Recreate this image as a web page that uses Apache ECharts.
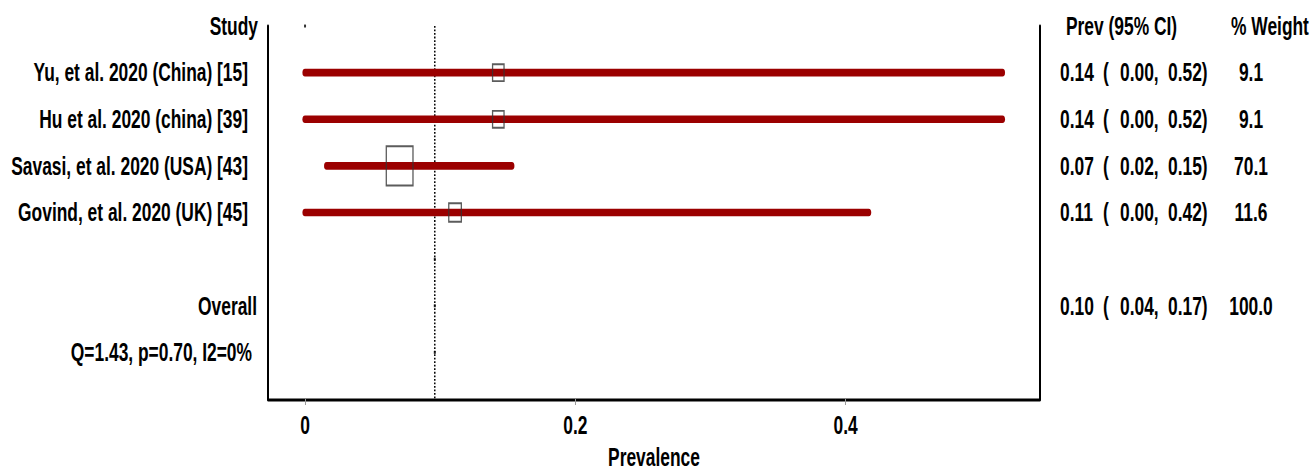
<!DOCTYPE html>
<html>
<head>
<meta charset="utf-8">
<script src="https://cdn.jsdelivr.net/npm/echarts@6/dist/echarts.min.js"></script>
<style>
  html, body { margin: 0; padding: 0; background: #fff; overflow: hidden; }
  #wrap { width: 1313px; height: 472px; overflow: hidden; }
  /* the plot is laid out short and then stretched vertically to the page height */
  #chart { width: 1313px; height: 321px; transform-origin: 0 0; }
</style>
</head>
<body>
<div id="wrap"><div id="chart"></div></div>
<script>
// ---- study data ----
const studies = [
  'Yu, et al. 2020 (China) [15]',
  'Hu et al. 2020 (china) [39]',
  'Savasi, et al. 2020 (USA) [43]',
  'Govind, et al. 2020 (UK) [45]'
];
const prev    = [0.143, 0.143, 0.070, 0.111];
const ciLow   = [0.000, 0.000, 0.016, 0.000];
const ciHigh  = [0.516, 0.516, 0.153, 0.417];
const weights = [9.1, 9.1, 70.1, 11.6];

// pooled estimate
const overallPrev   = 0.096;
const overallLow    = 0.04;
const overallHigh   = 0.17;
const overallWeight = 100.0;
const heterogeneity = 'Q=1.43, p=0.70, I2=0%';

// x axis ticks
const xTicks      = [0, 0.2, 0.4];
const xTickLabels = ['0', '0.2', '0.4'];

// ---- layout ----
const CHART_H = 321;
const PAGE_H = 472;
const chartDom = document.getElementById('chart');
chartDom.style.transform = 'scaleY(' + (PAGE_H / CHART_H) + ')';

const N_ROWS = 8;
const OVERALL_ROW = 6;
const Q_ROW = 7;
const FONT = '"Liberation Sans", Arial, Helvetica, sans-serif';
const txt = { fontFamily: FONT, fontWeight: 'bold', fontSize: 17.4, color: '#000' };

// row -> text maps for each text column
const leftHeader = { 0: 'Study' };
const leftStudies = {};
studies.forEach((s, i) => { leftStudies[i + 1] = s; });
const leftOverall = { [OVERALL_ROW]: 'Overall' };
const leftQ = { [Q_ROW]: heterogeneity };

const estCol = {}, parenCol = {}, lowCol = {}, highCol = {}, weightCol = {};
studies.forEach((s, i) => {
  const r = i + 1;
  estCol[r] = prev[i].toFixed(2);
  parenCol[r] = '(';
  lowCol[r] = ciLow[i].toFixed(2) + ',';
  highCol[r] = ciHigh[i].toFixed(2) + ')';
  weightCol[r] = weights[i].toFixed(1);
});
estCol[OVERALL_ROW] = overallPrev.toFixed(2);
parenCol[OVERALL_ROW] = '(';
lowCol[OVERALL_ROW] = overallLow.toFixed(2) + ',';
highCol[OVERALL_ROW] = overallHigh.toFixed(2) + ')';
weightCol[OVERALL_ROW] = overallWeight.toFixed(1);

const prevHeader = { 0: 'Prev (95% CI)' };
const weightHeader = { 0: '% Weight' };

// every y axis shares the same row scale; each one carries one text column
function rowAxis(position, margin, labels, opts) {
  opts = opts || {};
  return {
    type: 'value',
    gridIndex: 0,
    position: position,
    offset: 0,
    min: 0,
    max: N_ROWS,
    interval: 1,
    inverse: true,
    axisLine: opts.line
      ? { show: true, onZero: false, lineStyle: { color: '#000', width: 2 } }
      : { show: false, onZero: false },
    axisTick: { show: false },
    splitLine: { show: false },
    axisLabel: Object.assign({}, txt, {
      margin: margin,
      align: opts.align || (position === 'left' ? 'right' : 'left'),
      showMinLabel: true,
      showMaxLabel: true,
      formatter: function (v) {
        const t = labels[Math.round(v)];
        return t === undefined ? '' : t;
      }
    })
  };
}

// box side grows with the square root of the study weight
function boxSize(w) { return 2.9 + 2.84 * Math.sqrt(w); }

const ciData = studies.map((s, i) => [ciLow[i], ciHigh[i], i + 1]);
const boxData = studies.map((s, i) => ({ value: [prev[i], i + 1], symbolSize: boxSize(weights[i]) }));
const dotData = [[0, 0], [overallPrev, 5], [overallPrev, OVERALL_ROW], [overallPrev, Q_ROW]];

const chart = echarts.init(chartDom, null, { renderer: 'svg' });
chart.setOption({
  animation: false,
  backgroundColor: '#fff',
  grid: {
    left: 268, right: 273, top: 17.7, bottom: 49.6,
    containLabel: false,
    outerBoundsMode: 'none'
  },
  xAxis: {
    type: 'value',
    min: -0.0274,
    max: 0.5438,
    axisLine: { show: true, onZero: false, lineStyle: { color: '#000', width: 2 } },
    axisTick: { show: true, customValues: xTicks, length: 4, lineStyle: { color: '#999', width: 1 } },
    axisLabel: Object.assign({}, txt, {
      customValues: xTicks,
      margin: 9,
      formatter: function (v) {
        const k = xTicks.findIndex(t => Math.abs(t - v) < 1e-9);
        return k >= 0 ? xTickLabels[k] : '';
      }
    }),
    splitLine: { show: false },
    name: 'Prevalence',
    nameLocation: 'middle',
    nameGap: 31.3,
    nameTextStyle: Object.assign({}, txt, { lineHeight: 13 })
  },
  yAxis: [
    rowAxis('left', 10, leftHeader, { line: true }),
    rowAxis('left', 20, leftStudies),
    rowAxis('left', 11, leftOverall),
    rowAxis('left', 16, leftQ),
    rowAxis('right', 26, prevHeader, { line: true }),
    rowAxis('right', 191, weightHeader),
    rowAxis('right', 20, estCol),
    rowAxis('right', 63, parenCol),
    rowAxis('right', 80, lowCol),
    rowAxis('right', 128, highCol),
    rowAxis('right', 211, weightCol, { align: 'center' })
  ],
  series: [
    {
      // pooled estimate: dotted vertical reference line over the full height
      type: 'custom',
      xAxisIndex: 0,
      yAxisIndex: 0,
      encode: { x: 0, y: [1, 2] },
      data: [[overallPrev, 0, N_ROWS]],
      z: 1,
      renderItem: function (params, api) {
        const a = api.coord([api.value(0), api.value(1)]);
        const b = api.coord([api.value(0), api.value(2)]);
        return {
          type: 'line',
          shape: { x1: a[0], y1: a[1], x2: b[0], y2: b[1] },
          style: { stroke: '#000', lineWidth: 1.5, lineDash: [1.2, 1.2] }
        };
      }
    },
    {
      // confidence intervals
      type: 'custom',
      xAxisIndex: 0,
      yAxisIndex: 0,
      encode: { x: [0, 1], y: 2 },
      data: ciData,
      z: 2,
      renderItem: function (params, api) {
        const row = api.value(2);
        const a = api.coord([api.value(0), row]);
        const b = api.coord([api.value(1), row]);
        return {
          type: 'line',
          shape: { x1: a[0], y1: a[1], x2: b[0], y2: b[1] },
          style: { stroke: '#9b0000', lineWidth: 5.2, lineCap: 'round' }
        };
      }
    },
    {
      // point estimates, boxes sized by weight
      type: 'scatter',
      xAxisIndex: 0,
      yAxisIndex: 0,
      symbol: 'rect',
      data: boxData,
      z: 3,
      itemStyle: { color: 'rgba(0,0,0,0)', borderColor: '#333', borderWidth: 1.3 }
    },
    {
      // small row markers
      type: 'scatter',
      xAxisIndex: 0,
      yAxisIndex: 0,
      symbol: 'rect',
      symbolSize: 2,
      data: dotData,
      z: 4,
      itemStyle: { color: '#000' }
    }
  ]
});
</script>
</body>
</html>
